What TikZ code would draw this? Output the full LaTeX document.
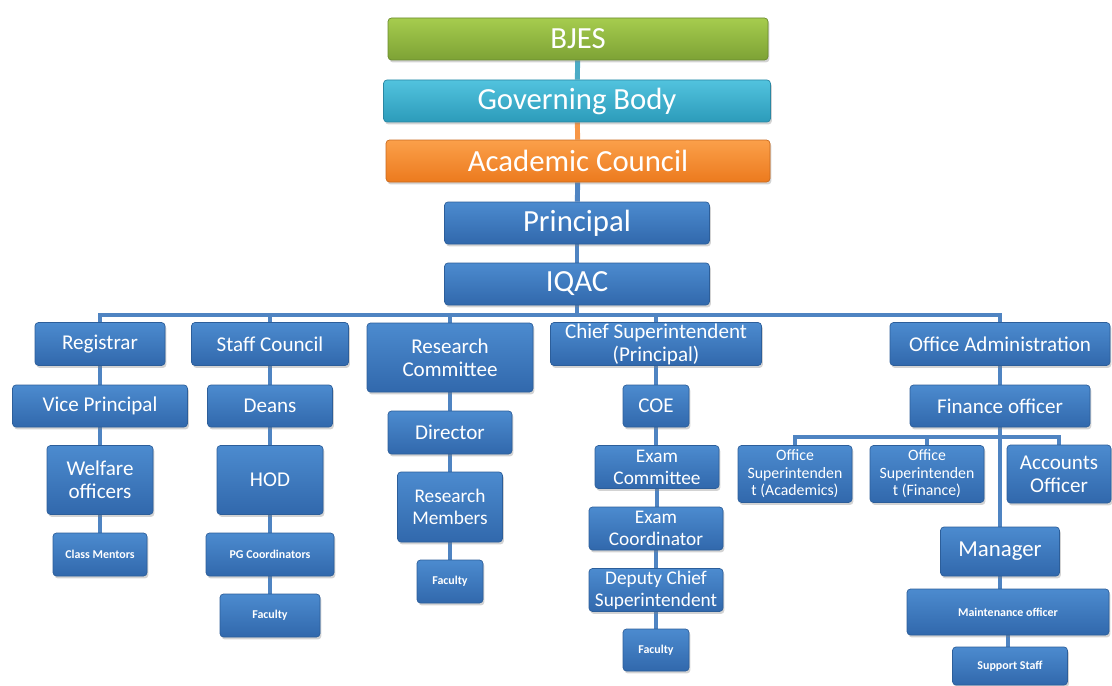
\documentclass[tikz,border=0pt]{standalone}
\usepackage{fontspec}
\setmainfont{Carlito}
\usetikzlibrary{shadows,backgrounds}

\definecolor{boxtop}{HTML}{4C8BCF}
\definecolor{boxbot}{HTML}{3168AC}
\definecolor{boxedge}{HTML}{2C5E9A}
\definecolor{greentop}{HTML}{A6CC4E}
\definecolor{greenbot}{HTML}{7DA235}
\definecolor{greenedge}{HTML}{6A8A2E}
\definecolor{aquatop}{HTML}{52C3DE}
\definecolor{aquabot}{HTML}{2C9BBA}
\definecolor{aquaedge}{HTML}{2A87A3}
\definecolor{orangetop}{HTML}{FBA04A}
\definecolor{orangebot}{HTML}{EC7A1E}
\definecolor{orangeedge}{HTML}{C96A1E}
\definecolor{linkblue}{HTML}{4F84C2}
\definecolor{linkaqua}{HTML}{4BACC6}
\definecolor{linkorange}{HTML}{F79646}

\begin{document}
\begin{tikzpicture}[x=0.02cm,y=-0.02cm,
  box/.style={rectangle,rounded corners=2pt,draw=boxedge,top color=boxtop,bottom color=boxbot,
    text=white,inner sep=0pt,align=center,
    drop shadow={opacity=0.35,shadow xshift=0.8pt,shadow yshift=-1.4pt}},
  bjesbox/.style={box,draw=greenedge,top color=greentop,bottom color=greenbot},
  govbox/.style={box,draw=aquaedge,top color=aquatop,bottom color=aquabot},
  acadbox/.style={box,draw=orangeedge,top color=orangetop,bottom color=orangebot},
  sz/.style 2 args={minimum width=#1*0.02cm,minimum height=#2*0.02cm},
  fhuge/.style={font=\fontsize{17.5}{20}\selectfont},
  flarge/.style={font=\fontsize{12}{13}\selectfont},
  fnorm/.style={font=\fontsize{11}{12.5}\selectfont},
  fsmall/.style={font=\fontsize{9}{10}\selectfont},
  ftiny/.style={font=\fontsize{6.8}{8}\selectfont\bfseries},
  link/.style={draw=linkblue,line width=2.8pt}]
\useasboundingbox (0,0) rectangle (1112,686);

\node[bjesbox,sz={380}{42},fhuge] (bjes) at (578,39) {BJES};
\node[govbox,sz={387}{42},fhuge] (gov) at (577,101) {Governing Body};
\node[acadbox,sz={384}{42},fhuge] (acad) at (578,161) {Academic Council};
\node[box,sz={265}{42},fhuge] (principal) at (577,223) {Principal};
\node[box,sz={265}{42},fhuge] (iqac) at (577,284) {IQAC};
\coordinate (bus) at (577,315);

\node[box,sz={130}{43},flarge] (reg) at (100,344) {Registrar};
\node[box,sz={157}{43},flarge] (staff) at (270,344) {Staff Council};
\node[box,sz={166}{69},flarge] (research) at (450,357.5) {Research\\Committee};
\node[box,sz={211}{43},flarge] (chief) at (656,344) {Chief Superintendent\\(Principal)};
\node[box,sz={220}{43},flarge] (office) at (1000,344) {Office Administration};

\node[box,sz={175}{42},flarge] (vp) at (100,406) {Vice Principal};
\node[box,sz={125}{42},flarge] (deans) at (270,406) {Deans};
\node[box,sz={124}{43},flarge] (director) at (450,432.5) {Director};
\node[box,sz={66}{42},flarge] (coe) at (656,406) {COE};
\node[box,sz={180}{42},flarge] (finance) at (1000,406) {Finance officer};
\coordinate (fbus) at (1000,437);

\node[box,sz={106}{69},flarge] (welfare) at (100,480) {Welfare\\officers};
\node[box,sz={106}{69},flarge] (hod) at (270,480) {HOD};
\node[box,sz={105}{70},fnorm] (members) at (450,507) {Research\\Members};
\node[box,sz={124}{43},fnorm] (examcom) at (657,467) {Exam\\Committee};
\node[box,sz={134}{43},fnorm] (examco) at (656,528.5) {Exam\\Coordinator};
\node[box,sz={134}{43},fnorm] (deputy) at (656,590) {Deputy Chief\\Superintendent};
\node[box,sz={66}{42},ftiny] (fac3) at (656,650) {Faculty};

\node[box,sz={94}{43},ftiny] (mentors) at (100,554.5) {Class Mentors};
\node[box,sz={128}{43},ftiny] (pgc) at (270,554.5) {PG Coordinators};
\node[box,sz={100}{43},ftiny] (fac1) at (270,615.5) {Faculty};
\node[box,sz={66}{43},ftiny] (fac2) at (450,581.5) {Faculty};

\node[box,sz={114}{57},fsmall] (osacad) at (795,474) {Office\\Superintenden\\t (Academics)};
\node[box,sz={114}{57},fsmall] (osfin) at (927,474) {Office\\Superintenden\\t (Finance)};
\node[box,sz={104}{58},flarge] (accounts) at (1059,474) {Accounts\\Officer};
\node[box,sz={119}{49},font=\fontsize{13}{14}\selectfont] (manager) at (1000,551.5) {Manager};
\node[box,sz={202}{46},ftiny] (maint) at (1008,612) {Maintenance officer};
\node[box,sz={115}{38},ftiny] (support) at (1010,666) {Support Staff};

\begin{scope}[on background layer]
\draw[link,draw=linkaqua] (bjes) -- (gov);
\draw[link,draw=linkorange] (gov) -- (acad);
\draw[link] (acad) -- (principal);
\draw[link] (principal) -- (iqac);
\draw[link] (iqac) -- (bus);
\foreach \n in {reg,staff,research,chief,office}
  \draw[link] (bus) -| (\n);
\foreach \a/\b in {reg/vp,vp/welfare,welfare/mentors,staff/deans,deans/hod,hod/pgc,pgc/fac1,
  research/director,director/members,members/fac2,chief/coe,coe/examcom,examcom/examco,
  examco/deputy,deputy/fac3,office/finance,manager/maint,maint/support}
  \draw[link] (\a) -- (\a |- \b.north);
\draw[link] (finance) -- (finance |- manager.north);
\foreach \n in {osacad,osfin,accounts}
  \draw[link] (fbus) -| (\n);
\end{scope}
\end{tikzpicture}
\end{document}
